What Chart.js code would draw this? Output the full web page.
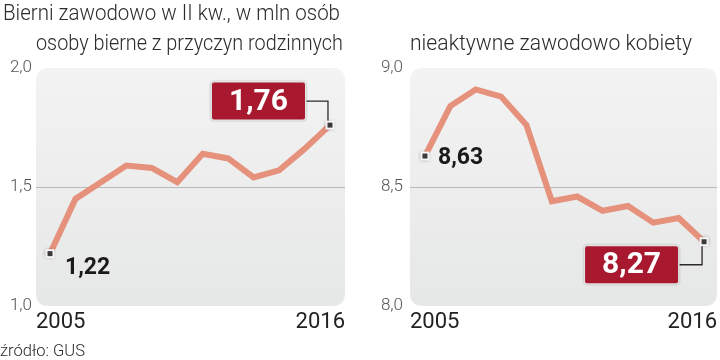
<!DOCTYPE html>
<html><head><meta charset="utf-8">
<script src="https://cdn.jsdelivr.net/npm/chart.js@4/dist/chart.umd.min.js"></script>
<style>
html,body{margin:0;padding:0;background:#fff;width:720px;height:360px;overflow:hidden;}
#wrap{position:relative;width:720px;height:360px;}
canvas{position:absolute;top:0;}
.t{position:absolute;white-space:nowrap;line-height:1;font-family:Roboto,"Liberation Sans",sans-serif;font-weight:300;color:#2b2b2b;transform-origin:0 0;}
</style></head><body>
<div id="wrap">
<canvas id="c1" width="360" height="360" style="left:0;width:360px;height:360px"></canvas>
<canvas id="c2" width="360" height="360" style="left:360px;width:360px;height:360px"></canvas>
<span class="t" id="title" data-l="3" data-b="20.7" data-f="22" data-w="337">Bierni zawodowo w II kw., w mln osób</span>
<span class="t" id="sub1" data-l="36" data-b="51" data-f="22" data-w="307">osoby bierne z przyczyn rodzinnych</span>
<span class="t" id="sub2" data-l="410" data-b="51" data-f="22" data-w="282">nieaktywne zawodowo kobiety</span>
<span class="t" id="src" data-l="0" data-b="356" data-f="17" data-w="85">źródło: GUS</span>
</div>
<script>
// ---- data ----
const years = [2005, 2006, 2007, 2008, 2009, 2010, 2011, 2012, 2013, 2014, 2015, 2016];
const rodzinne = [1.22, 1.45, 1.52, 1.59, 1.58, 1.52, 1.64, 1.62, 1.54, 1.57, 1.66, 1.76];
const kobiety = [8.63, 8.84, 8.91, 8.88, 8.76, 8.44, 8.46, 8.40, 8.42, 8.35, 8.37, 8.27];
const xTickLabels = ['2005', '2016'];
const leftYTicks = [1.0, 1.5, 2.0];
const rightYTicks = [8.0, 8.5, 9.0];

// ---- html text fitting ----
document.querySelectorAll('.t').forEach(el => {
  const f = +el.dataset.f;
  el.style.fontSize = f + 'px';
  el.style.left = el.dataset.l + 'px';
  el.style.top = (+el.dataset.b - 0.8415 * f) + 'px';
  const w = el.getBoundingClientRect().width;
  el.style.transform = 'scaleX(' + (+el.dataset.w / w) + ')';
});

Chart.defaults.font.family = 'Roboto, "Liberation Sans", sans-serif';
const fmt = v => v.toFixed(1).replace('.', ',');
const LINE = '#e5917c';
const RED = '#a8182e';

function roundRect(ctx, x, y, w, h, r) {
  ctx.beginPath();
  ctx.moveTo(x + r, y);
  ctx.lineTo(x + w - r, y);
  ctx.quadraticCurveTo(x + w, y, x + w, y + r);
  ctx.lineTo(x + w, y + h - r);
  ctx.quadraticCurveTo(x + w, y + h, x + w - r, y + h);
  ctx.lineTo(x + r, y + h);
  ctx.quadraticCurveTo(x, y + h, x, y + h - r);
  ctx.lineTo(x, y + r);
  ctx.quadraticCurveTo(x, y, x + r, y);
  ctx.closePath();
}

const bgPlugin = {
  id: 'bg',
  beforeDraw(chart) {
    const { ctx, chartArea: a } = chart;
    ctx.save();
    const g = ctx.createLinearGradient(0, a.top, 0, a.bottom);
    g.addColorStop(0, '#f3f3f3');
    g.addColorStop(1, '#e6e7e7');
    ctx.fillStyle = g;
    roundRect(ctx, a.left, a.top, a.right - a.left, a.bottom - a.top, 13);
    ctx.fill();
    ctx.restore();
  }
};

function marker(ctx, x, y) {
  ctx.save();
  ctx.shadowColor = 'rgba(0,0,0,0.35)';
  ctx.shadowBlur = 3;
  ctx.fillStyle = '#f7f7f7';
  ctx.fillRect(x - 4.5, y - 4.5, 9, 9);
  ctx.restore();
  ctx.fillStyle = '#3a3a3a';
  ctx.fillRect(x - 2.5, y - 2.5, 5, 5);
}

function plainLabel(ctx, text, x, y) {
  ctx.save();
  ctx.font = 'bold 23px Roboto, "Liberation Sans", sans-serif';
  ctx.fillStyle = '#1a1a1a';
  ctx.textAlign = 'left';
  ctx.textBaseline = 'middle';
  ctx.fillText(text, x, y);
  ctx.restore();
}

function boxLabel(ctx, text, right, cy, px, py, up) {
  const w = 93, h = 37;
  const x = right - w, y = cy - h / 2;
  ctx.save();
  // connector
  ctx.strokeStyle = '#2a2a2a';
  ctx.lineWidth = 1.3;
  ctx.beginPath();
  ctx.moveTo(right, cy);
  ctx.lineTo(px - 2, cy);
  ctx.lineTo(px - 2, py + (up ? 4 : -4));
  ctx.stroke();
  // box
  ctx.shadowColor = 'rgba(0,0,0,0.25)';
  ctx.shadowBlur = 2;
  ctx.fillStyle = '#e2e2e2';
  roundRect(ctx, x - 1.5, y - 1.5, w + 3, h + 3, 4);
  ctx.fill();
  ctx.shadowColor = 'transparent';
  ctx.fillStyle = RED;
  roundRect(ctx, x, y, w, h, 2);
  ctx.fill();
  ctx.font = 'bold 30px Roboto, "Liberation Sans", sans-serif';
  ctx.fillStyle = '#ffffff';
  ctx.textAlign = 'center';
  ctx.textBaseline = 'middle';
  ctx.fillText(text, x + w / 2, cy + 1);
  ctx.restore();
}

function makeChart(id, values, yTicks, ymin, ymax, xmin, xmax, yWidth, tickPad, rightPad, ann) {
  const annPlugin = {
    id: 'ann',
    afterDatasetsDraw(chart) {
      const ctx = chart.ctx;
      const pts = chart.getDatasetMeta(0).data;
      const p0 = pts[0], pN = pts[pts.length - 1];
      ann(ctx, p0, pN, values);
      marker(ctx, p0.x, p0.y);
      marker(ctx, pN.x, pN.y);
    }
  };
  return new Chart(document.getElementById(id), {
    type: 'line',
    data: {
      datasets: [{
        data: years.map((y, i) => ({ x: y, y: values[i] })),
        borderColor: LINE,
        borderWidth: 6,
        pointRadius: 0,
        tension: 0,
        borderJoinStyle: 'miter',
        borderCapStyle: 'butt'
      }]
    },
    options: {
      responsive: false,
      animation: false,
      devicePixelRatio: 1,
      layout: { padding: { top: 68, right: rightPad, left: 0, bottom: 0 } },
      plugins: { legend: { display: false }, tooltip: { enabled: false } },
      scales: {
        x: {
          type: 'linear', min: xmin, max: xmax,
          afterBuildTicks: s => { s.ticks = [{ value: xmin }, { value: xmax }]; },
          afterFit: s => { s.height = 54; },
          grid: { display: false, drawTicks: false },
          border: { display: false },
          ticks: {
            align: 'inner', autoSkip: false, maxRotation: 0, padding: 3,
            color: '#222', font: { size: 22 },
            callback: (v, i) => xTickLabels[i]
          }
        },
        y: {
          type: 'linear', min: ymin, max: ymax,
          afterBuildTicks: s => { s.ticks = yTicks.map(v => ({ value: v })); },
          afterFit: s => { s.width = yWidth; },
          grid: {
            drawTicks: false,
            color: c => (c.tick && Math.abs(c.tick.value - yTicks[1]) < 1e-6) ? '#b9b9b9' : 'rgba(0,0,0,0)',
            lineWidth: 1
          },
          border: { display: false },
          ticks: {
            padding: tickPad, color: '#555', font: { size: 17, weight: 300 },
            callback: v => fmt(v)
          }
        }
      }
    },
    plugins: [bgPlugin, annPlugin]
  });
}

makeChart('c1', rodzinne, leftYTicks, 1.0, 2.0, 2004.45, 2016.59, 36, 4, 15,
  (ctx, p0, pN, v) => {
    plainLabel(ctx, fmt2(v[0]), p0.x + 15, p0.y + 15);
    boxLabel(ctx, fmt2(v[v.length - 1]), pN.x - 25, pN.y - 24, pN.x, pN.y, false);
  });
makeChart('c2', kobiety, rightYTicks, 8.0, 9.0, 2004.41, 2016.51, 50, 7, 2,
  (ctx, p0, pN, v) => {
    plainLabel(ctx, fmt2(v[0]), p0.x + 13, p0.y + 2);
    boxLabel(ctx, fmt2(v[v.length - 1]), pN.x - 26, pN.y + 23, pN.x, pN.y, true);
  });
function fmt2(v) { return v.toFixed(2).replace('.', ','); }
</script>
</body></html>
